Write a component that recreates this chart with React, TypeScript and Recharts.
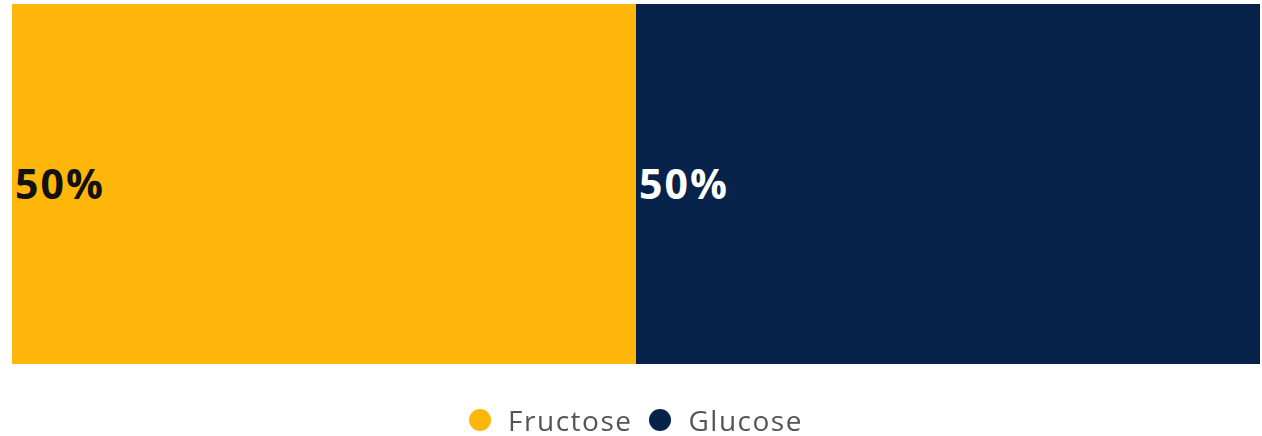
import { BarChart, Bar, XAxis, YAxis, Legend, LabelList } from "recharts";

// composition of the sugar
const categories = ["Sugar"];
const fructose = [50];
const glucose = [50];
const seriesNames = ["Fructose", "Glucose"];
const seriesColors = ["#FFB60B", "#07224B"];
const labelColors = ["#111111", "#ffffff"];

const data = categories.map((name, i) => ({
    name,
    Fructose: fructose[i],
    Glucose: glucose[i],
}));

const font = "'Open Sans', 'DejaVu Sans', sans-serif";

function renderLegend() {
    return (
        <div style={{ height: 72, display: "flex", justifyContent: "center", alignItems: "flex-start", paddingTop: 39, boxSizing: "border-box" }}>
            {seriesNames.map((name, i) => (
                <div key={name} style={{ display: "flex", alignItems: "center", marginRight: i === 0 ? 17 : 0 }}>
                    <span style={{ width: 22, height: 22, borderRadius: "50%", background: seriesColors[i], display: "inline-block", marginRight: 17 }} />
                    <span style={{ fontFamily: font, fontSize: 28, letterSpacing: 1.5, color: "#555555", lineHeight: "34px" }}>{name}</span>
                </div>
            ))}
        </div>
    );
}

export default function App() {
    return (
        <div style={{ position: "fixed", top: 0, left: 0, width: 1262, height: 436, background: "#ffffff" }}>
            <BarChart
                width={1262}
                height={436}
                data={data}
                layout="vertical"
                barCategoryGap={0}
                margin={{ top: 4, right: 2, bottom: 0, left: 12 }}>
                <XAxis type="number" domain={[0, 100]} hide />
                <YAxis type="category" dataKey="name" hide />
                <Legend verticalAlign="bottom" height={72} content={renderLegend} />
                {seriesNames.map((name, i) => (
                    <Bar
                        key={name}
                        dataKey={name}
                        stackId="a"
                        fill={seriesColors[i]}
                        isAnimationActive={false}>
                        <LabelList
                            dataKey={name}
                            position="insideLeft"
                            offset={3}
                            formatter={(v: any) => `${v}%`}
                            fill={labelColors[i]}
                            style={{ fontFamily: font, fontWeight: 700, fontSize: 41, letterSpacing: 2 }} />
                    </Bar>
                ))}
            </BarChart>
        </div>
    );
}
